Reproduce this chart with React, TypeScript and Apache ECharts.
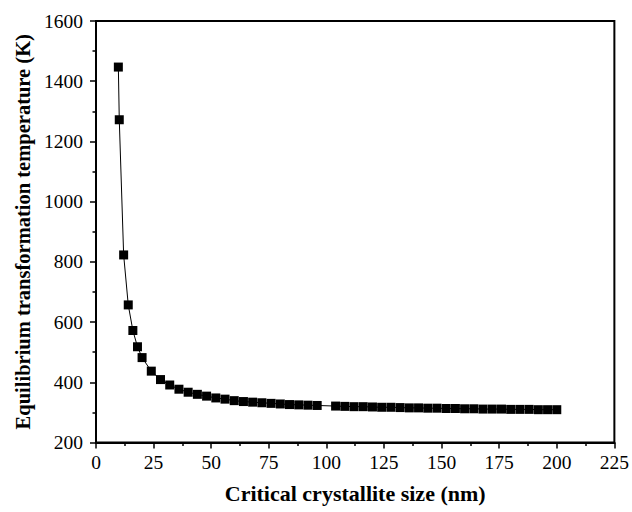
import React, { useEffect, useRef } from "react";
import * as echarts from "echarts";

const sizes = [9.7, 10.1, 12, 14, 16, 18, 20, 24, 28, 32, 36, 40, 44, 48, 52, 56, 60, 64, 68, 72, 76, 80, 84, 88, 92, 96, 104, 108, 112, 116, 120, 124, 128, 132, 136, 140, 144, 148, 152, 156, 160, 164, 168, 172, 176, 180, 184, 188, 192, 196, 200];
const temps = [1447, 1272, 823, 657, 572, 518, 482, 437, 409, 391, 377, 367, 360, 354, 348, 344, 339, 336, 334, 332, 330, 328, 326, 325, 324, 323, 321, 320, 319, 319, 318, 317, 317, 316, 315, 315, 314, 314, 313, 313, 312, 312, 311, 311, 311, 310, 310, 310, 309, 309, 309];

const xName = "Critical crystallite size (nm)";
const yName = "Equilibrium transformation temperature (K)";
const FONT = "Liberation Serif";

export default function App() {
  const ref = useRef<HTMLDivElement>(null);
  useEffect(() => {
    document.body.style.margin = "0";
    const chart = echarts.init(ref.current!, null, { renderer: "svg" });
    const data = sizes.map((s, i) => [s, temps[i]]);
    chart.setOption({
      animation: false,
      backgroundColor: "#fff",
      textStyle: { fontFamily: FONT },
      grid: { left: 96, right: 17.5, top: 21, bottom: 69.5, show: true, borderColor: "#000", borderWidth: 2, backgroundColor: "transparent" },
      xAxis: {
        type: "value", min: 0, max: 225, interval: 25,
        name: xName, nameLocation: "middle", nameGap: 40,
        nameTextStyle: { fontFamily: FONT, fontWeight: "bold", fontSize: 22, color: "#000" },
        axisLine: { show: true, lineStyle: { color: "#000", width: 2 } },
        axisTick: { show: true, inside: false, length: 6, lineStyle: { color: "#000", width: 1.5 } },
        minorTick: { show: true, splitNumber: 2, length: 3.5, lineStyle: { color: "#000", width: 1.5 } },
        axisLabel: { fontFamily: FONT, fontSize: 19.5, color: "#000", margin: 10, formatter: (v: number) => String(v) },
        splitLine: { show: false },
      },
      yAxis: {
        type: "value", min: 200, max: 1600, interval: 200,
        name: yName, nameLocation: "middle", nameGap: 63,
        nameTextStyle: { fontFamily: FONT, fontWeight: "bold", fontSize: 20.5, color: "#000" },
        axisLine: { show: true, lineStyle: { color: "#000", width: 2 } },
        axisTick: { show: true, inside: false, length: 6, lineStyle: { color: "#000", width: 1.5 } },
        minorTick: { show: true, splitNumber: 2, length: 3.5, lineStyle: { color: "#000", width: 1.5 } },
        axisLabel: { fontFamily: FONT, fontSize: 19.5, color: "#000", margin: 13, formatter: (v: number) => String(v) },
        splitLine: { show: false },
      },
      series: [
        {
          type: "line",
          data,
          symbol: "rect",
          symbolSize: 9,
          showAllSymbol: true,
          lineStyle: { color: "#000", width: 1 },
          itemStyle: { color: "#000" },
        },
      ],
    });
    return () => chart.dispose();
  }, []);
  return <div ref={ref} style={{ position: "absolute", left: 0, top: 0, width: 632, height: 512 }} />;
}
